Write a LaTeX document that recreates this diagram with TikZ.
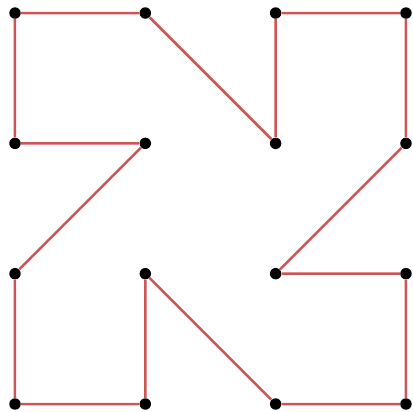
\documentclass[tikz,border=0pt]{standalone}
\usepackage{tikz}

\definecolor{pathred}{RGB}{205,85,85}

\begin{document}
\begin{tikzpicture}[x=2cm, y=2cm,
  dot/.style={circle, fill=black, inner sep=0pt, minimum size=5pt},
  edge/.style={pathred, line width=1.1pt}]
\useasboundingbox (-0.115,-0.055) rectangle (3.054,3.1);

% grid of dots
\foreach \i in {0,...,3}
  \foreach \j in {0,...,3}
    \node[dot] (d\i\j) at (\i,\j) {};

% closed path through the dots
\draw[edge] (d03) -- (d13) -- (d22) -- (d23) -- (d33) -- (d32) -- (d21) -- (d31)
  -- (d30) -- (d20) -- (d11) -- (d10) -- (d00) -- (d01) -- (d12) -- (d02) -- (d03);
\end{tikzpicture}
\end{document}
